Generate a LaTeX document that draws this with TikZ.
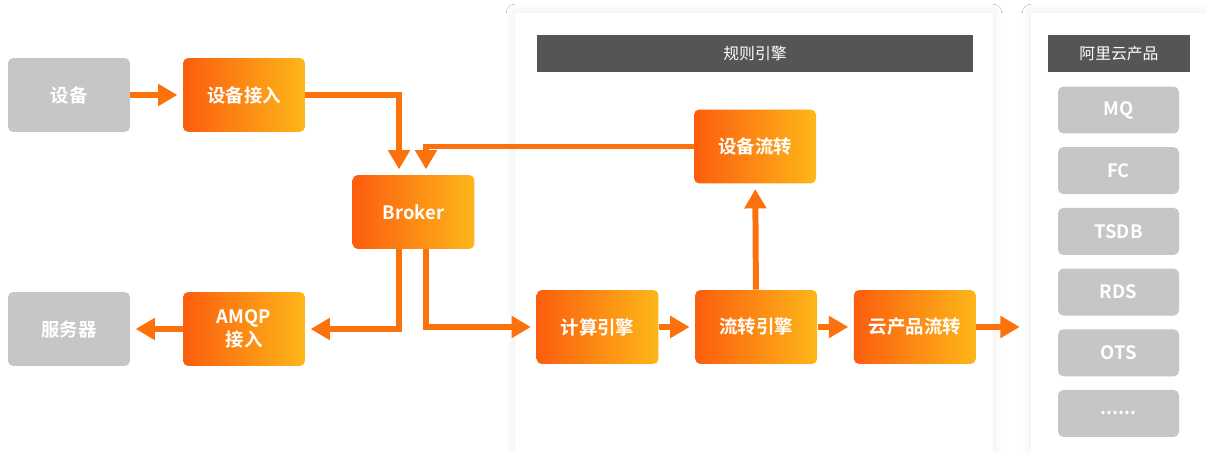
\documentclass[tikz,border=0pt]{standalone}
\usepackage{fontspec}
\setmainfont{Noto Sans CJK SC}[BoldFont={Noto Sans CJK SC Bold}]
\usetikzlibrary{arrows.meta, positioning, shadows.blur}

\definecolor{orL}{HTML}{FC5D0E}
\definecolor{orR}{HTML}{FDB719}
\definecolor{flowc}{HTML}{FB720C}
\definecolor{greyc}{HTML}{C6C6C6}
\definecolor{headc}{HTML}{555555}

\tikzset{
  orbox/.style   = {rectangle, rounded corners=3pt, left color=orL, right color=orR,
                    minimum width=2.44cm, minimum height=1.48cm, inner sep=0pt,
                    text=white, align=center, font=\bfseries\fontsize{10.5}{13}\selectfont},
  gbox/.style    = {rectangle, rounded corners=3pt, fill=greyc,
                    minimum width=2.44cm, minimum height=1.48cm, inner sep=0pt,
                    text=white, font=\bfseries\fontsize{10.5}{13}\selectfont},
  prodbox/.style = {gbox, minimum width=2.42cm, minimum height=0.94cm},
  headbar/.style = {rectangle, fill=headc, minimum height=0.74cm, inner sep=0pt,
                    text=white, font=\fontsize{9}{11}\selectfont},
  panel/.style   = {fill=white, blur shadow={shadow xshift=0pt, shadow yshift=0pt,
                    shadow blur radius=5pt, shadow opacity=9}},
  flow/.style    = {draw=flowc, line width=3.4pt, shorten >=3pt,
                    -{Triangle[width=12pt, length=11pt]}}
}

\begin{document}
\begin{tikzpicture}[x=0.02cm, y=-0.02cm]

\fill[white] (0,0) rectangle (1206,452);
\useasboundingbox (0,0) rectangle (1206,452);

% panels
\path[panel] (515,13) rectangle (993,475);
\path[panel] (1031,13) rectangle (1230,475);

\node[headbar, minimum width=8.72cm]	(rulehead)	at (755,53.5)		{规则引擎};
\node[headbar, minimum width=2.84cm]	(prodhead)	at (1119,53.5)		{阿里云产品};

% left side
\node[gbox]							(dev)	at (69,95)			{设备};
\node[orbox]						(acc)	at (244,95)			{设备接入};
\node[orbox]						(brk)	at (413.5,212)		{Broker};
\node[gbox]							(srv)	at (69,329)			{服务器};
\node[orbox]						(amqp)	at (244,329)		{AMQP\\接入};

% rule engine
\node[orbox]						(calc)	at (597.5,327)		{计算引擎};
\node[orbox, right=0.72cm of calc]	(fwd)						{流转引擎};
\node[orbox, right=0.72cm of fwd]	(cloud)						{云产品流转};
\node[orbox]						(devfwd) at (755,146.5)		{设备流转};
\coordinate							(out)	at (1025,327);

% products
\node[prodbox]						(mq)	at (1118.5,110)		{MQ};
\node[prodbox, below=0.26cm of mq]	(fc)						{FC};
\node[prodbox, below=0.26cm of fc]	(tsdb)						{TSDB};
\node[prodbox, below=0.26cm of tsdb]	(rds)					{RDS};
\node[prodbox, below=0.26cm of rds]	(ots)						{OTS};
\node[prodbox, below=0.26cm of ots]	(more)						{......};

\draw[flow]	(dev)		--	(acc);
\draw[flow]	(acc.east)	-|	([xshift=-0.29cm]brk.north);
\draw[flow]	(devfwd.west)	-|	([xshift=0.25cm]brk.north);
\draw[flow]	([xshift=-0.29cm]brk.south)	|-	(amqp.east);
\draw[flow]	([xshift=0.25cm]brk.south)	|-	(calc.west);
\draw[flow]	(amqp)		--	(srv);
\draw[flow]	(calc)		--	(fwd);
\draw[flow]	(fwd)		--	(cloud);
\draw[flow]	(cloud)		--	(out);
\draw[flow]	(fwd)		--	(devfwd);

\end{tikzpicture}
\end{document}
